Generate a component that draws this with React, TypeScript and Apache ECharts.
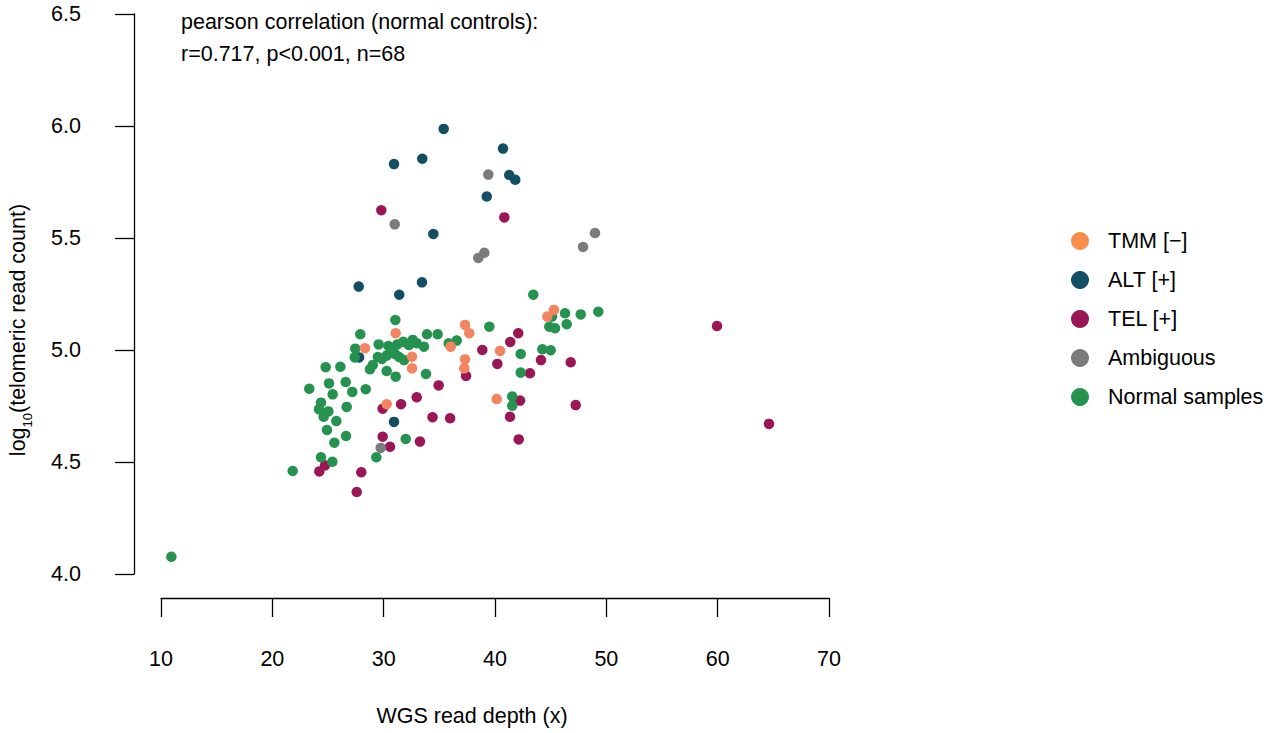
import React, { useEffect, useRef } from "react";
import * as echarts from "echarts";

// Group names (legend order)
const groupNames = ["TMM [−]", "ALT [+]", "TEL [+]", "Ambiguous", "Normal samples"];

// [WGS read depth, log10(telomeric read count)]
const tmmPoints = [
  [31.08, 5.075], [28.32, 5.008], [32.55, 4.97], [32.55, 4.918], [37.31, 5.112],
  [37.69, 5.075], [36.02, 5.015], [37.31, 4.958], [37.24, 4.918], [30.27, 4.758],
  [45.3, 5.179], [44.7, 5.149], [40.45, 4.996], [40.15, 4.781],
];

const altPoints = [
  [35.39, 5.987], [40.72, 5.899], [33.47, 5.854], [30.93, 5.83], [41.28, 5.781],
  [41.82, 5.76], [39.26, 5.685], [34.46, 5.518], [27.76, 5.283], [31.4, 5.247],
  [33.44, 5.302], [27.79, 4.967], [30.93, 4.679],
];

const telPoints = [
  [29.79, 5.624], [40.84, 5.592], [59.94, 5.107], [64.61, 4.67],
  [34.94, 4.842], [37.4, 4.884], [32.97, 4.789], [31.56, 4.758], [29.91, 4.738],
  [34.39, 4.7], [35.97, 4.695], [29.91, 4.613], [30.57, 4.568], [33.26, 4.591],
  [24.73, 4.485], [24.22, 4.458], [27.99, 4.454], [27.58, 4.366],
  [42.09, 5.075], [41.37, 5.036], [38.86, 5.0], [40.21, 4.938], [44.13, 4.955],
  [46.8, 4.945], [43.14, 4.896], [42.25, 4.774], [47.25, 4.754], [41.35, 4.702],
  [42.13, 4.601],
];

const ambiguousPoints = [
  [39.4, 5.783], [30.99, 5.561], [39.04, 5.434], [38.5, 5.411], [47.91, 5.46],
  [48.98, 5.522], [29.73, 4.563],
];

const normalPoints = [
  [31.05, 5.134], [27.9, 5.07], [29.55, 5.025], [30.42, 5.018], [31.23, 5.025],
  [31.76, 5.037], [32.61, 5.045], [32.97, 5.03], [33.62, 5.015], [33.89, 5.07],
  [34.85, 5.07], [35.84, 5.03], [36.56, 5.042], [27.45, 5.006], [27.4, 4.967],
  [29.48, 4.969], [30.27, 4.975], [31.02, 4.982], [31.38, 4.969], [31.83, 4.955],
  [29.02, 4.933], [28.77, 4.914], [30.27, 4.906], [31.08, 4.881], [33.8, 4.893],
  [24.79, 4.923], [26.11, 4.925], [25.09, 4.851], [26.59, 4.857], [28.39, 4.825],
  [23.32, 4.827], [25.42, 4.802], [27.18, 4.813], [24.37, 4.765], [24.19, 4.735],
  [25.03, 4.726], [24.61, 4.702], [26.68, 4.746], [25.75, 4.683], [24.91, 4.643],
  [26.62, 4.616], [25.57, 4.586], [31.98, 4.603], [24.37, 4.521], [25.39, 4.501],
  [29.34, 4.521], [21.83, 4.46], [10.93, 4.077], [43.44, 5.247], [46.29, 5.164],
  [45.12, 5.149], [44.88, 5.104], [45.39, 5.097], [46.44, 5.115], [47.7, 5.159],
  [49.28, 5.171], [39.49, 5.104], [42.31, 4.982], [44.25, 5.003], [45.0, 4.999],
  [42.31, 4.899], [41.55, 4.792], [41.55, 4.751], [30.75, 5.009], [32.26, 5.022],
  [29.85, 4.96],
];

// Axis ranges / ticks
const xMin = 10, xMax = 70, xStep = 10;
const yMin = 4.0, yMax = 6.5, yStep = 0.5;

const annotationLines = [
  "pearson correlation (normal controls):",
  "r=0.717, p<0.001, n=68",
];

const plotColors = ["#F4845F", "#124F62", "#9A1654", "#7B7B7D", "#25924F"];
const legendColors = ["#FA8C4E", "#124F62", "#9A1654", "#7B7B7D", "#25924F"];

const FONT = "'Liberation Sans', Arial, Helvetica, sans-serif";
const FS = 21.5;

export default function App() {
  const ref = useRef<HTMLDivElement>(null);

  useEffect(() => {
    if (!ref.current) return;
    const chart = echarts.init(ref.current, undefined, { renderer: "svg" });

    const dataByGroup = [tmmPoints, altPoints, telPoints, ambiguousPoints, normalPoints];
    // drawing order (bottom to top)
    const drawOrder = [1, 2, 4, 0, 3];

    const series = drawOrder.map((gi) => ({
      name: groupNames[gi],
      type: "scatter",
      data: dataByGroup[gi],
      symbol: "circle",
      symbolSize: 10.5,
      itemStyle: { color: plotColors[gi], opacity: 1 },
      emphasis: { disabled: true },
    }));

    chart.setOption({
      animation: false,
      textStyle: { fontFamily: FONT },
      grid: { left: 161, right: 440, top: 14, bottom: 159, containLabel: false },
      xAxis: {
        type: "value",
        min: xMin,
        max: xMax,
        interval: xStep,
        offset: 24,
        axisLine: { show: true, lineStyle: { color: "#000", width: 1.3 } },
        axisTick: { show: true, inside: false, length: 19, lineStyle: { color: "#000", width: 1.3 } },
        axisLabel: { color: "#000", fontSize: FS, margin: 50, fontFamily: FONT },
        splitLine: { show: false },
      },
      yAxis: {
        type: "value",
        min: yMin,
        max: yMax,
        interval: yStep,
        offset: 27,
        axisLine: { show: true, lineStyle: { color: "#000", width: 1.3 } },
        axisTick: { show: true, inside: false, length: 19, lineStyle: { color: "#000", width: 1.3 } },
        axisLabel: {
          color: "#000",
          fontSize: FS,
          margin: 53,
          fontFamily: FONT,
          formatter: (v: number) => v.toFixed(1),
        },
        splitLine: { show: false },
      },
      legend: {
        orient: "vertical",
        left: 1071,
        top: 230,
        padding: 0,
        itemWidth: 46,
        itemHeight: 18,
        itemGap: 17,
        icon: "circle",
        selectedMode: false,
        textStyle: { color: "#000", fontSize: FS, fontFamily: FONT },
        data: groupNames.map((n, i) => ({ name: n, itemStyle: { color: legendColors[i] } })),
      },
      graphic: [
        {
          type: "text",
          left: 181,
          top: 11,
          style: { text: annotationLines[0], fill: "#000", font: `${FS}px ${FONT}` },
        },
        {
          type: "text",
          left: 181,
          top: 43,
          style: { text: annotationLines[1], fill: "#000", font: `${FS}px ${FONT}` },
        },
        {
          type: "text",
          x: 472,
          y: 716,
          style: {
            text: "WGS read depth (x)",
            fill: "#000",
            font: `${FS}px ${FONT}`,
            align: "center",
            verticalAlign: "middle",
          },
        },
        {
          type: "text",
          x: 20,
          y: 330,
          rotation: Math.PI / 2,
          style: {
            text: "{m|log}{s|10}{m|(telomeric read count)}",
            fill: "#000",
            align: "center",
            verticalAlign: "middle",
            rich: {
              m: { fontSize: FS, fontFamily: FONT, lineHeight: 22, verticalAlign: "top", fill: "#000" },
              s: { fontSize: 13, fontFamily: FONT, lineHeight: 27, verticalAlign: "bottom", fill: "#000" },
            },
          },
        },
      ],
      series,
    });

    return () => chart.dispose();
  }, []);

  return (
    <div
      ref={ref}
      style={{ position: "fixed", left: 0, top: 0, width: 1269, height: 733, background: "#fff" }}
    />
  );
}
